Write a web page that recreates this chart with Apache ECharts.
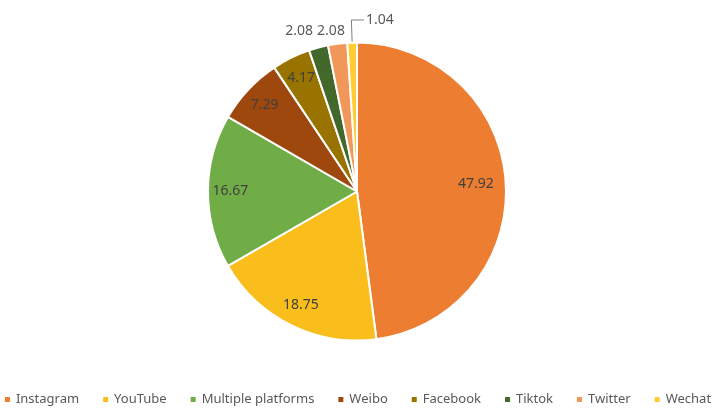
<!DOCTYPE html>
<html>
<head>
<meta charset="utf-8">
<script src="https://cdn.jsdelivr.net/npm/echarts@6/dist/echarts.min.js"></script>
<style>
  html, body { margin: 0; padding: 0; background: #ffffff; }
  #chart { width: 714px; height: 410px; }
</style>
</head>
<body>
<div id="chart"></div>
<script>
// ---- data ----
const categories = ['Instagram', 'YouTube', 'Multiple platforms', 'Weibo', 'Facebook', 'Tiktok', 'Twitter', 'Wechat'];
const values = [47.92, 18.75, 16.67, 7.29, 4.17, 2.08, 2.08, 1.04];

// ---- style ----
const colors = ['#ED7D31', '#F9BE1C', '#70AD47', '#9E480E', '#997300', '#43682B', '#F1975A', '#FFCD33'];
const CX = 357, CY = 191.5, R = 149;
const insideRatio = { 'Instagram': 0.80 };   // radial position of inside labels (fraction of radius)
const defaultInsideRatio = 0.85;
const outsideLabels = {
  'Tiktok':  { line: false, length: 17, length2: -4 },
  'Twitter': { line: false, length: 13, length2: -14 },
  'Wechat':  { line: true,  length: 22.6, length2: -12.6 }
};

const data = categories.map(function (name, i) {
  const item = { name: name, value: values[i], itemStyle: { color: colors[i] } };
  const o = outsideLabels[name];
  if (o) {
    item.label = {
      position: 'outside',
      color: '#595959',
      distanceToLabelLine: o.line ? -2 : 5,
      padding: o.line ? [0, 0, 12, 0] : 0
    };
    item.labelLine = {
      show: o.line,
      length: o.length,
      length2: o.length2,
      minTurnAngle: 30,
      smooth: false,
      lineStyle: { color: '#7f7f7f', width: 1 }
    };
  }
  return item;
});

const chart = echarts.init(document.getElementById('chart'), null, { renderer: 'canvas' });
chart.setOption({
  animation: false,
  backgroundColor: '#ffffff',
  legend: {
    data: categories,
    left: 'center',
    width: 714,
    top: 393,
    padding: 0,
    icon: 'rect',
    itemWidth: 7,
    itemHeight: 7,
    itemGap: 22,
    textStyle: { color: '#595959', fontSize: 13, fontFamily: 'Noto Sans' }
  },
  series: [{
    type: 'pie',
    center: [CX, CY],
    radius: [0, R],
    startAngle: 90,
    clockwise: true,
    avoidLabelOverlap: false,
    itemStyle: { borderColor: '#ffffff', borderWidth: 2 },
    label: {
      show: true,
      position: 'inside',
      formatter: '{c}',
      color: '#404040',
      fontSize: 14,
      fontFamily: 'Noto Sans'
    },
    labelLayout: function (params) {
      const name = categories[params.dataIndex];
      if (outsideLabels[name]) {
        return name === 'Wechat' ? { align: 'left' } : {};
      }
      const lr = params.labelRect;
      const lx = lr.x + lr.width / 2, ly = lr.y + lr.height / 2;
      const d = Math.hypot(lx - CX, ly - CY) || 1;
      const t = (insideRatio[name] || defaultInsideRatio) * R;
      return {
        x: CX + (lx - CX) * t / d,
        y: CY + (ly - CY) * t / d,
        align: 'center',
        verticalAlign: 'middle'
      };
    },
    data: data
  }]
});
</script>
</body>
</html>
